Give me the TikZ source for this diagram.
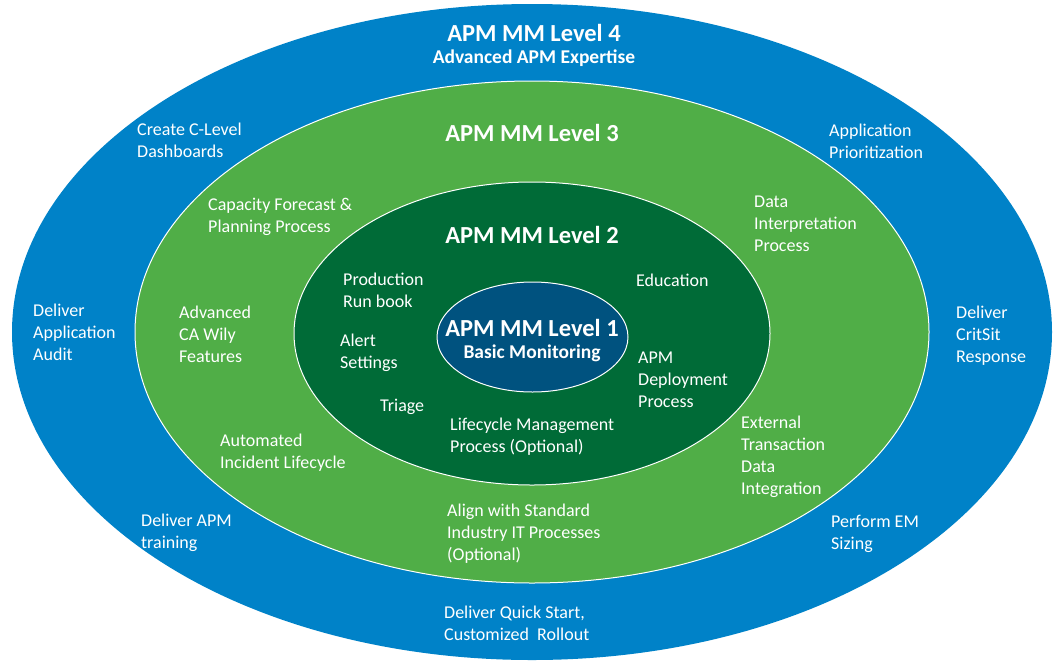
\documentclass[tikz,border=0pt]{standalone}
\usepackage{fontspec}
\setmainfont{Carlito}
\definecolor{lvfour}{HTML}{0082C8}
\definecolor{lvthree}{HTML}{50AE47}
\definecolor{lvtwo}{HTML}{006B37}
\definecolor{lvone}{HTML}{00527F}
\begin{document}
\begin{tikzpicture}[x=1pt,y=-1pt,
  ring/.style={draw=white,line width=1pt},
  lbl/.style={anchor=north west,inner sep=0pt,align=left,text=white,
    font=\fontsize{18}{22}\selectfont},
  ttl/.style={anchor=center,inner sep=0pt,text=white,
    font=\fontsize{24.5}{26}\selectfont\bfseries},
  sub/.style={anchor=center,inner sep=0pt,text=white,
    font=\fontsize{19.5}{21}\selectfont\bfseries}]
\useasboundingbox (0,0) rectangle (1057,662);
% rings
\fill[lvfour] (532,332) ellipse [x radius=520pt,y radius=328pt];
\path[fill=lvthree,ring] (532,332) ellipse [x radius=397pt,y radius=251pt];
\path[fill=lvtwo,ring] (532,333.5) ellipse [x radius=238pt,y radius=151.5pt];
\path[fill=lvone,ring] (532.5,337) ellipse [x radius=95.5pt,y radius=55pt];
% level 4
\node[ttl] (t4) at (534,33) {APM MM Level 4};
\node[sub] (s4) at (534,58) {Advanced APM Expertise};
\node[lbl] (a4) at (137,123) {Create C-Level\\Dashboards};
\node[lbl] (b4) at (829,124) {Application\\Prioritization};
\node[lbl] (c4) at (33,304) {Deliver\\Application\\Audit};
\node[lbl] (d4) at (956,306) {Deliver\\CritSit\\Response};
\node[lbl] (e4) at (141,514) {Deliver APM\\training};
\node[lbl] (f4) at (831,515) {Perform EM\\Sizing};
\node[lbl] (g4) at (444,606) {Deliver Quick Start,\\Customized\ \ Rollout};
% level 3
\node[ttl] (t3) at (532,133) {APM MM Level 3};
\node[lbl] (a3) at (208,198) {Capacity Forecast \&\\Planning Process};
\node[lbl] (b3) at (754,196) {Data\\Interpretation\\Process};
\node[lbl] (c3) at (179,306) {Advanced\\CA Wily\\Features};
\node[lbl] (d3) at (220,434) {Automated\\Incident Lifecycle};
\node[lbl] (e3) at (741,416) {External\\Transaction\\Data\\Integration};
\node[lbl] (f3) at (447,504) {Align with Standard\\Industry IT Processes\\(Optional)};
% level 2
\node[ttl] (t2) at (532,235) {APM MM Level 2};
\node[lbl] (a2) at (343,273) {Production\\Run book};
\node[lbl] (b2) at (636,274) {Education};
\node[lbl] (c2) at (340,334) {Alert\\Settings};
\node[lbl] (d2) at (638,352) {APM\\Deployment\\Process};
\node[lbl] (e2) at (380,399) {Triage};
\node[lbl] (f2) at (450,418) {Lifecycle Management\\Process (Optional)};
% level 1
\node[ttl] (t1) at (532,328) {APM MM Level 1};
\node[sub] (s1) at (532,353) {Basic Monitoring};
\end{tikzpicture}
\end{document}
